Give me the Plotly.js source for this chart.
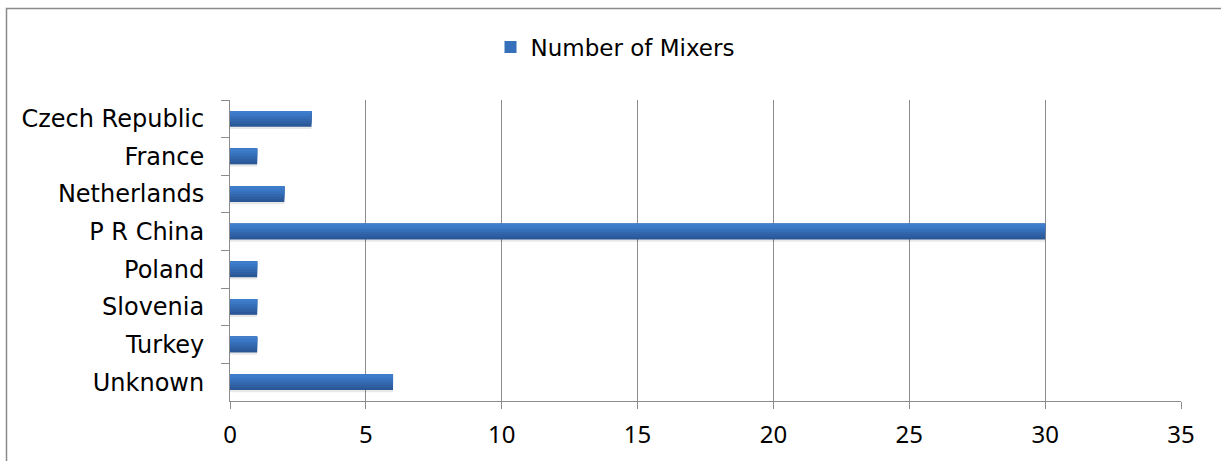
<!DOCTYPE html>
<html>
<head>
<meta charset="utf-8">
<script src="https://cdn.plot.ly/plotly-3.0.1.min.js"></script>
<style>
html,body{margin:0;padding:0;background:#fff;}
#chart{width:1221px;height:461px;}
</style>
</head>
<body>
<div id="chart"></div>
<script>
var categories = ["Czech Republic", "France", "Netherlands", "P R China", "Poland", "Slovenia", "Turkey", "Unknown"];
var mixers = [3, 1, 2, 30, 1, 1, 1, 6];
var seriesName = "Number of Mixers";
var xTicks = [0, 5, 10, 15, 20, 25, 30, 35];

// shading bands, drawn darkest first; each later (lighter) band covers a shorter top part
var bandColors = ["#2a5795", "#2e5fa2", "#3267ae", "#366fb9", "#3a77c4", "#3f7ecd"];
var barWidth = 0.42;
var nb = bandColors.length;

var traces = [];
// soft shadow
traces.push({
  type: "bar", orientation: "h", x: mixers, y: categories,
  width: barWidth, offset: -barWidth / 2 + 0.06,
  marker: {color: "rgba(0,0,0,0.09)", line: {width: 0}},
  showlegend: false, hoverinfo: "skip"
});
bandColors.forEach(function (c, i) {
  var w = barWidth * (nb - i) / nb;
  traces.push({
    type: "bar", orientation: "h", x: mixers, y: categories,
    name: seriesName,
    width: w, offset: -barWidth / 2,
    marker: {color: c, line: {width: 0}},
    showlegend: false
  });
});
// legend entry
traces.push({
  type: "bar", orientation: "h", x: [null], y: [categories[0]],
  name: seriesName, marker: {color: "#3670ba"}, showlegend: true
});

var font = "DejaVu Sans, Noto Sans, sans-serif";
var numFont = "Noto Sans, Open Sans, sans-serif";
var L = 230, R = 40, T = 100, B = 60, W = 1221, H = 461;
var pw = W - L - R, ph = H - T - B;
function px2x(p) { return (p - L) / pw; }
function px2y(p) { return (H - B - p) / ph; }

var layout = {
  width: W, height: H,
  margin: {l: L, r: R, t: T, b: B, pad: 0},
  paper_bgcolor: "#ffffff", plot_bgcolor: "#ffffff",
  barmode: "overlay",
  font: {family: font, size: 23, color: "#000000"},
  showlegend: true,
  legend: {
    orientation: "h", x: px2x(615), xanchor: "center",
    y: px2y(47), yanchor: "middle",
    font: {family: font, size: 23, color: "#000"},
    itemwidth: 30, bgcolor: "rgba(0,0,0,0)"
  },
  xaxis: {
    range: [0, 35], tickvals: xTicks, ticktext: xTicks.map(String),
    showgrid: true, gridcolor: "#8c8c8c", gridwidth: 1,
    showline: true, linecolor: "#8c8c8c", linewidth: 1,
    ticks: "outside", ticklen: 7, tickcolor: "#8c8c8c",
    ticklabelstandoff: 5,
    zeroline: false, fixedrange: true,
    tickfont: {family: numFont, size: 24, color: "#000"}
  },
  yaxis: {
    type: "category", categoryorder: "array", categoryarray: categories,
    autorange: "reversed",
    showgrid: false, showline: true, linecolor: "#8c8c8c", linewidth: 1,
    ticks: "outside", tickson: "boundaries", ticklen: 8, tickcolor: "#8c8c8c",
    ticklabelstandoff: 20,
    zeroline: false, fixedrange: true,
    tickfont: {family: font, size: 24, color: "#000"}
  },
  shapes: [{
    type: "rect", xref: "paper", yref: "paper",
    x0: px2x(6.5), x1: px2x(1240), y0: px2y(480), y1: px2y(8.5),
    line: {color: "#8a8a8a", width: 1.5}, layer: "below"
  }]
};

Plotly.newPlot("chart", traces, layout, {displayModeBar: false, staticPlot: true});
</script>
</body>
</html>
